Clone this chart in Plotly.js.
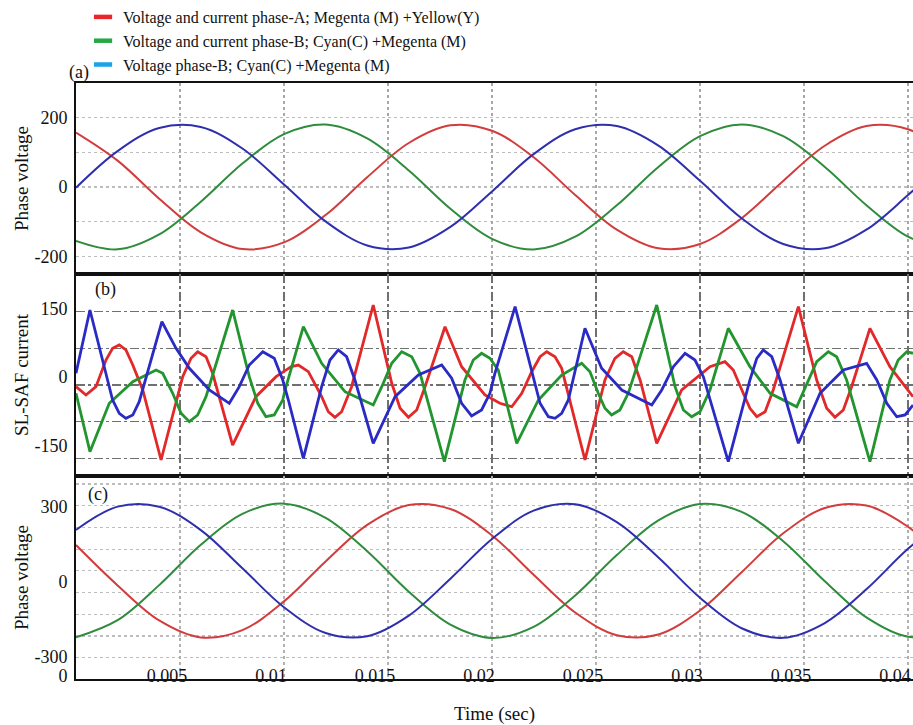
<!DOCTYPE html>
<html><head><meta charset="utf-8">
<script src="https://cdn.plot.ly/plotly-3.0.1.min.js"></script>
<style>html,body{margin:0;padding:0;background:#fff}#chart{width:913px;height:725px}</style>
</head><body><div id="chart"></div>
<script>
// ---------- shared time base for the smooth voltage panels (s) ----------
const timeV = [0,0.002,0.004,0.006,0.008,0.010,0.012,0.014,0.016,0.018,0.020,0.022,0.024,0.026,0.028,0.030,0.032,0.034,0.036,0.038,0.040,0.042];

// ---------- panel (a): phase voltage ----------
const aRed   = [156.8,75.9,-33.5,-130.3,-178.3,-159.4,-80.7,28.2,126.6,177.4,161.8,85.5,-22.9,-122.7,-176.5,-164.1,-89.9,17.6,118.8,175.3,166.2,94.7];
const aGreen = [-154.9,-179.3,-136.4,-42.4,67.5,152.2,179.7,139.8,47.6,-62.6,-149.2,-179.9,-143.1,-52.7,57.5,146.2,180.0,146.3,57.8,-52.4,-143.0,-179.9];
const aBlue  = [-1.9,103.4,169.9,172.7,110.7,7.2,-99.0,-168.1,-174.1,-114.9,-12.6,94.5,166.1,175.4,119.0,17.9,-89.9,-164.0,-176.5,-122.9,-23.2,85.2];

// ---------- panel (b): SL-SAF current ----------
const bBlueT = [0,0.00067,0.00176,0.00208,0.0024,0.00273,0.00304,0.00413,0.00481,0.00545,0.00641,0.00737,0.00785,0.00833,0.00898,0.00953,0.00994,0.01021,0.01093,0.01181,0.01221,0.01261,0.01301,0.01341,0.01429,0.01534,0.01646,0.01758,0.01806,0.01854,0.01902,0.0195,0.0199,0.02014,0.02111,0.02231,0.02271,0.02303,0.02335,0.02367,0.02447,0.02527,0.02624,0.02768,0.02816,0.02872,0.02928,0.02976,0.03016,0.03136,0.0324,0.03273,0.03304,0.03345,0.03385,0.03473,0.03577,0.03689,0.03801,0.0385,0.03898,0.03946,0.03986,0.04024];
const bBlue  = [8.4,147.7,-50.4,-79.7,-90.7,-83.4,-54.2,121.9,63.4,19.4,-28.4,-57.7,-21.1,26.6,55.9,41.4,-6.4,-50.4,-178.7,-21.1,37.6,59.7,44.9,-6.4,-145.7,-43.1,4.6,26.6,-2.6,-57.7,-85.6,-72.4,-35.7,8.4,155.0,-57.7,-87.2,-90.7,-79.7,-50.4,107.4,19.4,-28.4,-61.4,-28.4,22.9,52.4,37.6,0.9,-186.2,-6.4,41.4,59.7,44.9,-6.4,-145.7,-35.7,15.6,30.4,-6.4,-57.7,-87.2,-83.4,-61.4];
const bRedT  = [0,0.00048,0.00096,0.00144,0.00176,0.00208,0.0024,0.00273,0.00321,0.00409,0.00513,0.00553,0.00585,0.00625,0.00657,0.00753,0.00865,0.00962,0.01034,0.01069,0.01117,0.01181,0.01213,0.01245,0.01277,0.01325,0.01429,0.01518,0.01558,0.01598,0.01638,0.01678,0.01774,0.01854,0.01966,0.02038,0.02095,0.02143,0.02191,0.02231,0.02263,0.02303,0.02335,0.02447,0.02543,0.02591,0.02631,0.02672,0.02712,0.02792,0.02912,0.03048,0.0312,0.0316,0.03208,0.0324,0.03273,0.03313,0.03352,0.03473,0.03561,0.03609,0.03649,0.03689,0.03729,0.03817,0.03913,0.04024];
const bRed   = [-21.1,-39.4,-21.1,37.6,63.4,70.7,59.7,26.6,-28.4,-182.5,0.9,41.4,55.9,44.9,8.4,-149.5,-43.1,0.9,22.9,26.6,11.9,-43.1,-76.2,-88.5,-76.2,-21.1,158.7,-13.6,-68.7,-88.5,-72.4,-21.1,110.9,22.9,-39.4,-57.7,-65.2,-35.7,11.9,44.9,55.9,44.9,19.4,-182.5,-6.4,41.4,55.9,44.9,-6.4,-145.7,-28.4,22.9,33.9,15.6,-35.7,-68.7,-87.2,-76.2,-28.4,155.0,-6.4,-68.7,-88.5,-72.4,-21.1,107.4,22.9,-43.1];
const bGreenT= [0,0.00067,0.0016,0.00273,0.00385,0.00417,0.00465,0.00505,0.00545,0.00585,0.00625,0.00753,0.00833,0.00874,0.00913,0.00953,0.00994,0.01005,0.01093,0.01181,0.01293,0.01429,0.0147,0.01518,0.01566,0.01614,0.01654,0.01771,0.0187,0.0191,0.0195,0.0199,0.0203,0.02119,0.02223,0.02335,0.02431,0.02471,0.02511,0.02543,0.02575,0.02615,0.02655,0.02792,0.0288,0.0292,0.0296,0.03,0.03048,0.03136,0.0324,0.03337,0.03465,0.03513,0.03561,0.03617,0.03657,0.03705,0.03817,0.03913,0.03953,0.03994,0.04024];
const bGreen = [-35.7,-164.2,-57.7,-10.1,15.6,8.4,-35.7,-79.7,-98.2,-83.4,-43.1,147.7,0.9,-57.7,-87.2,-83.4,-50.4,-28.4,110.9,30.4,-32.1,-61.4,-21.1,30.4,55.9,44.9,8.4,-186.2,-6.4,37.6,52.4,41.4,15.6,-145.7,-50.4,4.6,30.4,11.9,-35.7,-68.7,-83.4,-72.4,-35.7,158.7,-21.1,-72.4,-87.2,-76.2,-28.4,107.4,22.9,-35.7,-65.2,-13.6,33.9,55.9,44.9,-6.4,-186.2,-6.4,37.6,55.9,52.4];

// ---------- panel (c): phase voltage ----------
const cRed   = [147.8,-13.6,-153.8,-221.7,-192.7,-77.5,82.3,228.4,308.0,292.0,186.2,29.1,-122.2,-212.8,-209.8,-114.2,39.2,194.7,295.8,305.7,220.9,72.2];
const cGreen = [-221.5,-152.9,-12.5,148.8,272.5,313.4,256.8,123.3,-38.7,-170.4,-223.7,-179.5,-53.7,107.9,246.6,312.1,280.6,163.4,3.2,-141.8,-219.0,-200.3];
const cBlue  = [208.5,301.4,301.1,207.7,55.1,-101.0,-204.2,-216.9,-134.5,13.2,172.3,285.3,310.8,239.8,98.0,-63.1,-184.9,-223.2,-164.1,-29.0,132.9,262.9];

// ---------- ticks / labels ----------
const aTicks = [-200,0,200], aTickText = ['-200','0','200'];
const bTicks = [-150,0,150], bTickText = ['-150','0','150'];
const cTicks = [-300,0,300], cTickText = ['-300','0','300'];
const legendNames = [
  'Voltage and current phase-A; Megenta (M) +Yellow(Y)',
  'Voltage and current phase-B; Cyan(C) +Megenta (M)',
  'Voltage phase-B; Cyan(C) +Megenta (M)'
];
const legendColors = ['#e8262c','#27a844','#1aa3e8'];

const FONT = 'Liberation Serif, Times New Roman, serif';
const cR = '#d23c3c', cG = '#2e8c3c', cB = '#2f2fae';
const bR = '#e22828', bG = '#22952f', bB = '#2a2ac4';

function line(x, y, color, xa, ya, w, shape) {
  return {type:'scatter', mode:'lines', x:x, y:y, xaxis:xa, yaxis:ya, showlegend:false,
          line:{color:color, width:w, shape:shape, smoothing:1}, hoverinfo:'skip'};
}
const traces = [
  line(timeV, aRed, cR, 'x', 'y', 2, 'spline'),
  line(timeV, aGreen, cG, 'x', 'y', 2, 'spline'),
  line(timeV, aBlue, cB, 'x', 'y', 2, 'spline'),
  line(bRedT, bRed, bR, 'x2', 'y2', 2.8, 'linear'),
  line(bGreenT, bGreen, bG, 'x2', 'y2', 2.8, 'linear'),
  line(bBlueT, bBlue, bB, 'x2', 'y2', 2.8, 'linear'),
  line(timeV, cRed, cR, 'x3', 'y3', 2, 'spline'),
  line(timeV, cGreen, cG, 'x3', 'y3', 2, 'spline'),
  line(timeV, cBlue, cB, 'x3', 'y3', 2, 'spline')
];
legendNames.forEach((n, i) => {
  traces.push({type:'scatter', mode:'markers', x:[null], y:[null], name:n, legendgroup:'g'+i,
    showlegend:true, marker:{symbol:'line-ew', size:13, color:legendColors[i], line:{color:legendColors[i], width:4.5}}});
});

const xRange = [0, 0.04024];
function xax(anchor, showLabels, griddash, gridcolor) {
  return {anchor:anchor, domain:[0,1], range:xRange, tickmode:'linear', tick0:0, dtick:0.005,
    showgrid:true, gridcolor:gridcolor, griddash:griddash, gridwidth:1.2, zeroline:false,
    showline:true, mirror:true, linecolor:'#111', linewidth:2, ticks:'',
    showticklabels:showLabels, tickfont:{family:FONT, size:18, color:'#111'}};
}
const xa3 = xax('y3', true, 'dot', '#b0b0b0');
xa3.ticklabelstandoff = -21;
xa3.ticklabelshift = -13;
xa3.title = {text:'Time (sec)', font:{family:FONT, size:19, color:'#111'}, standoff:26};

function yax(domain, range, tv, tt, title, majorGrid, minor) {
  return {domain:domain, range:range, tickmode:'array', tickvals:tv, ticktext:tt,
    showgrid:majorGrid.show, gridcolor:majorGrid.color, griddash:majorGrid.dash, gridwidth:1.2,
    minor:minor, zeroline:false, showline:true, mirror:true, linecolor:'#111', linewidth:2,
    ticks:'', ticklabelstandoff:3, tickfont:{family:FONT, size:18, color:'#111'},
    title:{text:title, font:{family:FONT, size:19, color:'#111'}, standoff:1}};
}

const layout = {
  width:913, height:725, paper_bgcolor:'#fff', plot_bgcolor:'#fff',
  margin:{l:76, r:0, t:83, b:46},
  font:{family:FONT, color:'#111'},
  xaxis: xax('y', false, 'dot', '#a8a8a8'),
  xaxis2: xax('y2', false, 'dashdot', '#707070'),
  xaxis3: xa3,
  yaxis: yax([0.6795,1], [-250.4,299.3], aTicks, aTickText, 'Phase voltage',
     {show:true, color:'#bdbdbd', dash:'dot'},
     {tickmode:'linear', tick0:0, dtick:100, showgrid:true, gridcolor:'#bdbdbd', griddash:'dot', gridwidth:1.2}),
  yaxis2: yax([0.3406,0.6795], [-217.7,226.9], bTicks, bTickText, 'SL-SAF current',
     {show:false, color:'#707070', dash:'dashdot'},
     {tickmode:'linear', tick0:-17.4, dtick:80.7, showgrid:true, gridcolor:'#707070', griddash:'dashdot', gridwidth:1.2}),
  yaxis3: yax([0,0.3406], [-388,424], cTicks, cTickText, 'Phase voltage',
     {show:false, color:'#bdbdbd', dash:'dot'},
     {tickmode:'linear', tick0:392, dtick:86.8, showgrid:true, gridcolor:'#bdbdbd', griddash:'dot', gridwidth:1.2}),
  legend:{x:0.0084, y:1.0, xref:'paper', yref:'container', xanchor:'left', yanchor:'top', bgcolor:'rgba(0,0,0,0)',
    font:{family:FONT, size:16, color:'#111'}, traceorder:'grouped', tracegroupgap:0},
  annotations:[
    {text:'(a)', xref:'paper', yref:'paper', x:0.0036, y:1.0168, xanchor:'center', yanchor:'middle', showarrow:false, font:{family:FONT, size:18, color:'#111'}},
    {text:'(b)', xref:'paper', yref:'paper', x:0.0358, y:0.6527, xanchor:'center', yanchor:'middle', showarrow:false, font:{family:FONT, size:18, color:'#111'}},
    {text:'(c)', xref:'paper', yref:'paper', x:0.0263, y:0.3104, xanchor:'center', yanchor:'middle', showarrow:false, font:{family:FONT, size:18, color:'#111'}}
  ],
  showlegend:true
};
Plotly.newPlot('chart', traces, layout, {staticPlot:true, displayModeBar:false});
</script></body></html>
